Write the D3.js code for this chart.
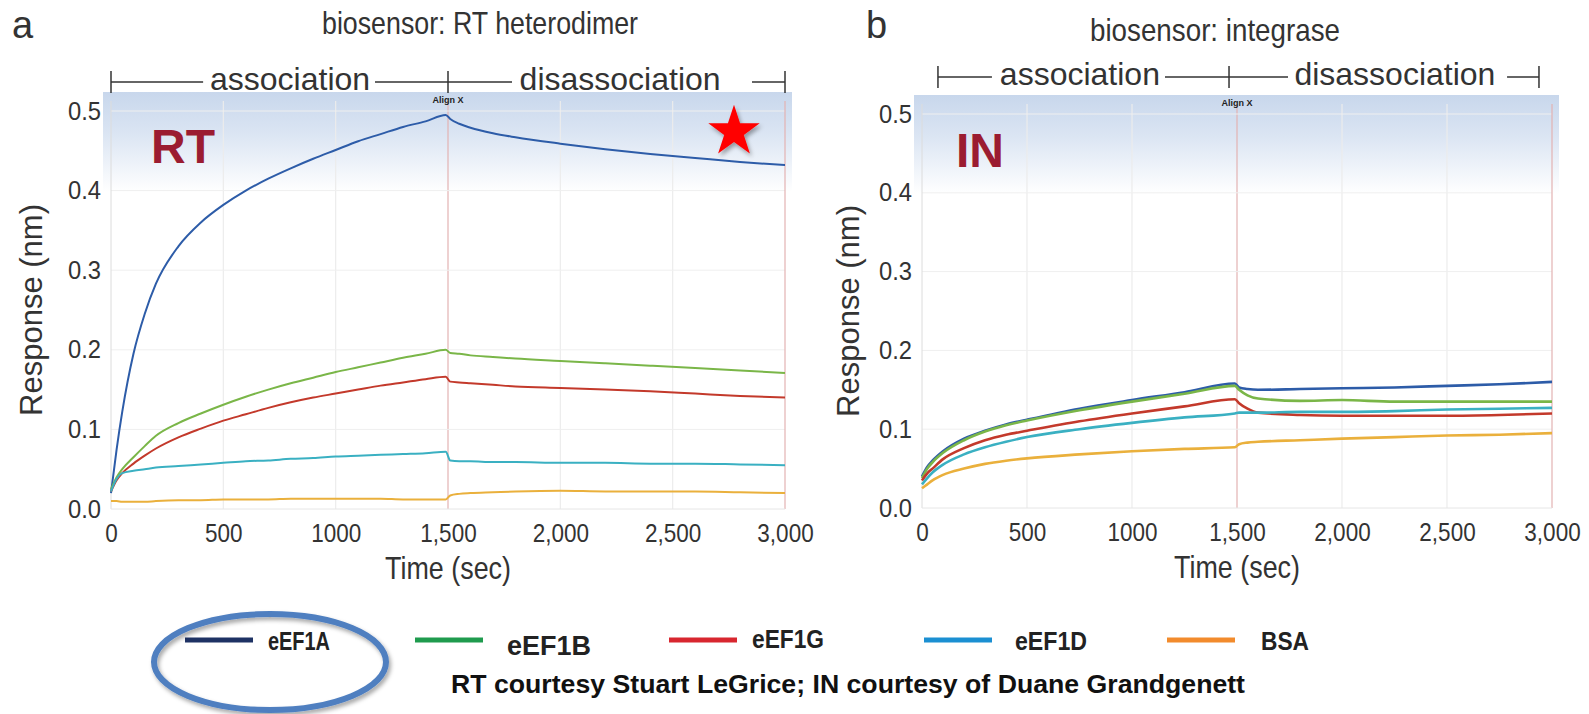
<!DOCTYPE html>
<html>
<head>
<meta charset="utf-8">
<script src="https://cdn.jsdelivr.net/npm/d3@7"></script>
<style>
  body { margin: 0; background: #fff; }
  svg { display: block; }
</style>
</head>
<body>
<svg id="chart" width="1589" height="714"></svg>
<script>
// series and data
const seriesNames = ['eEF1A', 'eEF1B', 'eEF1G', 'eEF1D', 'BSA'];

const timesRT = [0, 25, 50, 100, 150, 200, 300, 400, 500, 600, 700, 800, 900, 1000, 1100, 1200, 1300, 1400, 1490, 1510, 1550, 1600, 1700, 1800, 2000, 2200, 2400, 2600, 2800, 3000];
const rtEEF1A = [0.020, 0.075, 0.122, 0.195, 0.245, 0.283, 0.330, 0.360, 0.382, 0.400, 0.415, 0.428, 0.440, 0.451, 0.462, 0.471, 0.480, 0.487, 0.495, 0.490, 0.484, 0.479, 0.472, 0.467, 0.459, 0.452, 0.446, 0.441, 0.436, 0.432];
const rtEEF1B = [0.025, 0.040, 0.050, 0.065, 0.079, 0.092, 0.108, 0.120, 0.131, 0.141, 0.150, 0.158, 0.165, 0.172, 0.178, 0.184, 0.190, 0.195, 0.200, 0.196, 0.195, 0.193, 0.191, 0.189, 0.186, 0.183, 0.180, 0.177, 0.174, 0.171];
const rtEEF1G = [0.022, 0.036, 0.045, 0.057, 0.067, 0.076, 0.090, 0.101, 0.111, 0.119, 0.127, 0.134, 0.140, 0.145, 0.150, 0.155, 0.159, 0.163, 0.166, 0.160, 0.159, 0.158, 0.156, 0.154, 0.152, 0.150, 0.148, 0.145, 0.142, 0.140];
const rtEEF1D = [0.022, 0.038, 0.045, 0.048, 0.050, 0.052, 0.054, 0.056, 0.058, 0.060, 0.061, 0.063, 0.064, 0.066, 0.067, 0.068, 0.069, 0.070, 0.072, 0.061, 0.060, 0.060, 0.059, 0.059, 0.058, 0.058, 0.057, 0.057, 0.056, 0.055];
const rtBSA   = [0.010, 0.010, 0.009, 0.009, 0.009, 0.010, 0.011, 0.011, 0.012, 0.012, 0.012, 0.013, 0.013, 0.013, 0.013, 0.013, 0.012, 0.012, 0.012, 0.017, 0.019, 0.020, 0.021, 0.022, 0.023, 0.022, 0.022, 0.022, 0.021, 0.020];

const timesIN = [0, 25, 50, 100, 200, 300, 400, 500, 750, 1000, 1250, 1490, 1510, 1550, 1600, 1800, 2000, 2250, 2500, 2750, 3000];
const inEEF1A = [0.040, 0.052, 0.060, 0.072, 0.088, 0.098, 0.106, 0.112, 0.126, 0.137, 0.147, 0.158, 0.153, 0.151, 0.150, 0.151, 0.152, 0.153, 0.155, 0.157, 0.160];
const inEEF1B = [0.038, 0.050, 0.058, 0.070, 0.086, 0.097, 0.105, 0.111, 0.124, 0.135, 0.145, 0.155, 0.150, 0.143, 0.139, 0.136, 0.137, 0.135, 0.135, 0.135, 0.135];
const inEEF1G = [0.035, 0.044, 0.050, 0.062, 0.076, 0.086, 0.093, 0.098, 0.110, 0.120, 0.129, 0.138, 0.133, 0.126, 0.121, 0.118, 0.117, 0.117, 0.117, 0.118, 0.120];
const inEEF1D = [0.030, 0.038, 0.045, 0.055, 0.068, 0.077, 0.084, 0.090, 0.100, 0.108, 0.115, 0.120, 0.121, 0.121, 0.121, 0.122, 0.122, 0.123, 0.125, 0.126, 0.127];
const inBSA   = [0.025, 0.030, 0.035, 0.042, 0.050, 0.056, 0.060, 0.063, 0.068, 0.072, 0.075, 0.077, 0.081, 0.083, 0.084, 0.086, 0.088, 0.090, 0.092, 0.093, 0.095];

const xTicks = [0, 500, 1000, 1500, 2000, 2500, 3000];
const xTickLabels = ['0', '500', '1000', '1,500', '2,000', '2,500', '3,000'];
const yTicks = [0.0, 0.1, 0.2, 0.3, 0.4, 0.5];

const plotColors = ['#2d5ca8', '#7ab648', '#c3392b', '#3ab0c2', '#eab03c'];
const legendColors = ['#1e3264', '#1f9b4e', '#d8262f', '#1b8fd2', '#f28b2c'];

const sans = "'Liberation Sans', Arial, sans-serif";
const textCol = '#333';

// squeeze a text horizontally to mimic the narrow face of the original
function condense(sel, f) {
    sel.each(function () {
        const w = this.getComputedTextLength();
        d3.select(this).attr('textLength', w * f).attr('lengthAdjust', 'spacingAndGlyphs');
    });
    return sel;
}

const svg = d3.select('#chart');
const defs = svg.append('defs');

const grad = defs.append('linearGradient')
    .attr('id', 'band').attr('x1', 0).attr('y1', 0).attr('x2', 0).attr('y2', 1);
grad.append('stop').attr('offset', '0%').attr('stop-color', '#c8d7ec');
grad.append('stop').attr('offset', '10%').attr('stop-color', '#dbe5f3');
grad.append('stop').attr('offset', '24%').attr('stop-color', '#ffffff');
grad.append('stop').attr('offset', '100%').attr('stop-color', '#ffffff');

const shadow = defs.append('filter').attr('id', 'shadow')
    .attr('x', '-30%').attr('y', '-30%').attr('width', '160%').attr('height', '160%');
shadow.append('feDropShadow').attr('dx', 2).attr('dy', 3)
    .attr('stdDeviation', 2).attr('flood-opacity', 0.35);

const panels = [
    {
        letter: 'a', letterX: 12, letterY: 38,
        title: 'biosensor: RT heterodimer', titleX: 480, titleY: 34, titleW: 316,
        tag: 'RT', tagX: 151, tagY: 163, star: [2773, 0.474],
        times: timesRT, values: [rtEEF1A, rtEEF1B, rtEEF1G, rtEEF1D, rtBSA],
        xRange: [111, 785], yRange: [509, 111], lineW: 2,
        bracketY: 82, bracketTicks: [0, 1500, 3000],
        bracketSegs: [[0, 410], [1175, 1500], [1500, 1785], [2853, 3000]],
        assocT: 797, dissT: 2266,
        yLabelX: 42
    },
    {
        letter: 'b', letterX: 866, letterY: 38,
        title: 'biosensor: integrase', titleX: 1215, titleY: 41, titleW: 250,
        tag: 'IN', tagX: 956, tagY: 167, star: null,
        times: timesIN, values: [inEEF1A, inEEF1B, inEEF1G, inEEF1D, inBSA],
        xRange: [922, 1552], yRange: [508, 114], lineW: 2.6,
        bracketY: 77, bracketTicks: [76, 1462, 2938],
        bracketSegs: [[76, 333], [1157, 1462], [1462, 1743], [2786, 2938]],
        assocT: 752, dissT: 2252,
        yLabelX: 859
    }
];

function drawPanel(p) {
    const x = d3.scaleLinear().domain([0, 3000]).range(p.xRange);
    const y = d3.scaleLinear().domain([0, 0.5]).range(p.yRange);
    const g = svg.append('g');

    // plot background with blue header band
    g.append('rect')
        .attr('x', x(0) - 8).attr('y', y(0.5) - 19)
        .attr('width', x(3000) - x(0) + 15).attr('height', y(0) - y(0.5) + 19)
        .attr('fill', 'url(#band)');

    // grid
    g.selectAll('.vgrid').data(xTicks.slice(1, -1)).enter().append('line')
        .attr('x1', d => x(d)).attr('x2', d => x(d))
        .attr('y1', y(0.5) - 10).attr('y2', y(0))
        .attr('stroke', d => d === 1500 ? '#e3b2b2' : '#ececec').attr('stroke-width', 1.2);
    g.selectAll('.hgrid').data(yTicks.slice(1)).enter().append('line')
        .attr('x1', x(0)).attr('x2', x(3000))
        .attr('y1', d => y(d)).attr('y2', d => y(d))
        .attr('stroke', '#efefef').attr('stroke-width', 1);
    g.append('line').attr('x1', x(0)).attr('x2', x(0)).attr('y1', y(0.5) - 10).attr('y2', y(0))
        .attr('stroke', '#dcdcdc');
    g.append('line').attr('x1', x(3000)).attr('x2', x(3000)).attr('y1', y(0.5) - 10).attr('y2', y(0))
        .attr('stroke', '#e3b2b2').attr('stroke-width', 1.2);
    g.append('line').attr('x1', x(0)).attr('x2', x(3000)).attr('y1', y(0)).attr('y2', y(0))
        .attr('stroke', '#e6e6e6');

    g.append('text').attr('x', x(1500)).attr('y', y(0.5) - 8)
        .attr('text-anchor', 'middle').attr('font-family', sans).attr('font-weight', 'bold')
        .attr('font-size', 9).attr('fill', '#222').text('Align X');

    // curves
    const line = d3.line()
        .x((d, i) => x(p.times[i]))
        .y(d => y(d))
        .curve(d3.curveMonotoneX);
    g.selectAll('.series').data(p.values).enter().append('path')
        .attr('d', d => line(d))
        .attr('fill', 'none')
        .attr('stroke', (d, i) => plotColors[i])
        .attr('stroke-width', p.lineW);

    // axes
    const yAxis = g.append('g').attr('transform', `translate(${x(0)},0)`)
        .call(d3.axisLeft(y).tickValues(yTicks).tickFormat(d3.format('.1f')).tickSize(0).tickPadding(10));
    const xAxis = g.append('g').attr('transform', `translate(0,${y(0)})`)
        .call(d3.axisBottom(x).tickValues(xTicks).tickFormat((d, i) => xTickLabels[i]).tickSize(0).tickPadding(15));
    [yAxis, xAxis].forEach(a => {
        a.select('.domain').remove();
        a.selectAll('text').attr('font-family', sans).attr('font-size', 25).attr('fill', textCol);
    });
    condense(xAxis.selectAll('text'), 0.9);
    condense(yAxis.selectAll('text'), 0.95);

    condense(g.append('text').attr('x', (x(0) + x(3000)) / 2).attr('y', y(0) + 70)
        .attr('text-anchor', 'middle').attr('font-family', sans).attr('font-size', 32)
        .attr('fill', textCol).text('Time (sec)'), 0.84);
    g.append('text')
        .attr('transform', `translate(${p.yLabelX},${(y(0) + y(0.5)) / 2}) rotate(-90)`)
        .attr('text-anchor', 'middle').attr('font-family', sans).attr('font-size', 31)
        .attr('fill', textCol).text('Response (nm)');

    // association / disassociation bracket
    g.selectAll('.seg').data(p.bracketSegs).enter().append('line')
        .attr('x1', d => x(d[0])).attr('x2', d => x(d[1]))
        .attr('y1', p.bracketY).attr('y2', p.bracketY)
        .attr('stroke', '#333').attr('stroke-width', 1.5);
    g.selectAll('.btick').data(p.bracketTicks).enter().append('line')
        .attr('x1', d => x(d)).attr('x2', d => x(d))
        .attr('y1', p.bracketY - 11).attr('y2', p.bracketY + 11)
        .attr('stroke', '#333').attr('stroke-width', 1.5);
    g.append('text').attr('x', x(p.assocT)).attr('y', p.bracketY + 8)
        .attr('text-anchor', 'middle').attr('font-family', sans).attr('font-size', 32)
        .attr('fill', textCol).text('association');
    g.append('text').attr('x', x(p.dissT)).attr('y', p.bracketY + 8)
        .attr('text-anchor', 'middle').attr('font-family', sans).attr('font-size', 32)
        .attr('fill', textCol).text('disassociation');

    // titles and tags
    svg.append('text').attr('x', p.letterX).attr('y', p.letterY)
        .attr('font-family', sans).attr('font-size', 38).attr('fill', textCol).text(p.letter);
    svg.append('text').attr('x', p.titleX).attr('y', p.titleY)
        .attr('text-anchor', 'middle').attr('font-family', sans).attr('font-size', 32)
        .attr('textLength', p.titleW).attr('lengthAdjust', 'spacingAndGlyphs')
        .attr('fill', textCol).text(p.title);
    svg.append('text').attr('x', p.tagX).attr('y', p.tagY)
        .attr('font-family', sans).attr('font-weight', 'bold').attr('font-size', 48)
        .attr('fill', '#9b1c31').text(p.tag);

    if (p.star) {
        const star = d3.symbol().type(d3.symbolStar).size(820);
        svg.append('path').attr('d', star())
            .attr('transform', `translate(${x(p.star[0])},${y(p.star[1])})`)
            .attr('fill', '#ff0000').attr('filter', 'url(#shadow)');
    }
}

panels.forEach(drawPanel);

// legend
const legendX = [185, 415, 669, 924, 1167];
const legendTextX = [268, 507, 752, 1015, 1261];
const legendTextY = [650, 655, 648, 650, 650];
const legendTextW = [62, 84, 72, 72, 48];
const legendFont = [25, 27, 25, 25, 25];
const leg = svg.append('g');
leg.selectAll('line').data(seriesNames).enter().append('line')
    .attr('x1', (d, i) => legendX[i]).attr('x2', (d, i) => legendX[i] + 68)
    .attr('y1', 640).attr('y2', 640)
    .attr('stroke', (d, i) => legendColors[i]).attr('stroke-width', 5);
leg.selectAll('text').data(seriesNames).enter().append('text')
    .attr('x', (d, i) => legendTextX[i]).attr('y', (d, i) => legendTextY[i])
    .attr('font-family', sans).attr('font-weight', 'bold').attr('font-size', (d, i) => legendFont[i])
    .attr('textLength', (d, i) => legendTextW[i]).attr('lengthAdjust', 'spacingAndGlyphs')
    .attr('fill', '#222').text(d => d);

svg.append('ellipse').attr('cx', 270).attr('cy', 662).attr('rx', 116).attr('ry', 48)
    .attr('fill', 'none').attr('stroke', '#4f7fc0').attr('stroke-width', 6)
    .attr('filter', 'url(#shadow)');

svg.append('text').attr('x', 848).attr('y', 693)
    .attr('text-anchor', 'middle').attr('font-family', sans).attr('font-weight', 'bold')
    .attr('font-size', 25).attr('fill', '#111')
    .attr('textLength', 794).attr('lengthAdjust', 'spacingAndGlyphs')
    .text('RT courtesy Stuart LeGrice; IN courtesy of Duane Grandgenett');
</script>
</body>
</html>
